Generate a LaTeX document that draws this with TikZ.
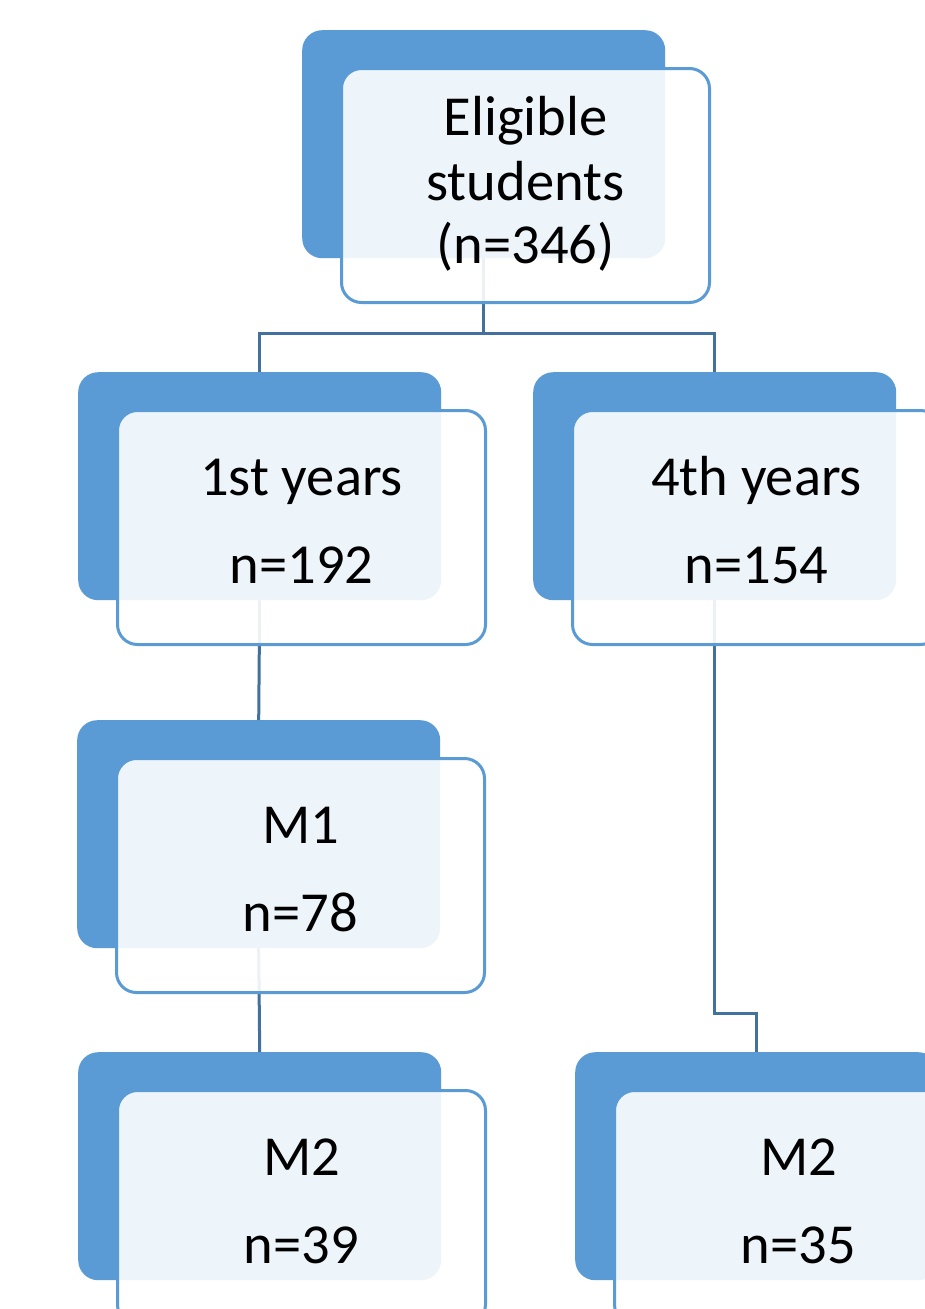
\documentclass[tikz,border=0pt]{standalone}
\usepackage{fontspec}
\setmainfont{Carlito}
\usetikzlibrary{calc}
\definecolor{accent}{HTML}{5B9BD5}
\definecolor{linkc}{HTML}{41719C}
\tikzset{
  backbox/.style={rectangle, rounded corners=20pt, fill=accent, draw=none,
    minimum width=363pt, minimum height=228pt, inner sep=0pt, anchor=north west},
  frontbox/.style={rectangle, rounded corners=20pt, fill=white, fill opacity=0.9,
    draw=accent, line width=3pt, minimum width=368pt, minimum height=234pt,
    inner sep=0pt, anchor=north west},
  lbl/.style={anchor=base, inner sep=0pt, text=black,
    font=\fontsize{56.5}{64}\selectfont},
  link/.style={draw=linkc, line width=3pt}
}
\begin{document}
\begin{tikzpicture}[x=1pt, y=-1pt]
\useasboundingbox (0,0) rectangle (925,1309);
\fill[white] (0,0) rectangle (925,1309);
% back boxes
\node[backbox] (b0)  at (302,30)   {};
\node[backbox] (b1l) at (78,372)   {};
\node[backbox] (b1r) at (533,372)  {};
\node[backbox] (b2)  at (77,720)   {};
\node[backbox] (b3l) at (78,1052)  {};
\node[backbox] (b3r) at (575,1052) {};
% connectors
\coordinate (m0) at (0,333);
\coordinate (m1) at (0,1013);
\draw[link] (b0.south) -- (b0.south |- m0) -| (b1l.north);
\draw[link] (b0.south |- m0) -| (b1r.north);
\draw[link] (b1l.south) -- (b2.north);
\draw[link] (b2.south) -- (b3l.north);
\draw[link] (b1r.south) -- (b1r.south |- m1) -| (b3r.north);
% front boxes
\node[frontbox] (f0)  at (340,67)   {};
\node[frontbox] (f1l) at (116,409)  {};
\node[frontbox] (f1r) at (571,409)  {};
\node[frontbox] (f2)  at (115,757)  {};
\node[frontbox] (f3l) at (116,1089) {};
\node[frontbox] (f3r) at (613,1089) {};
% labels
\node[lbl] (t0a) at ($(f0.north)+(0,68)$)  {Eligible};
\node[lbl] (t0b) at ($(f0.north)+(0,133)$) {students};
\node[lbl] (t0c) at ($(f0.north)+(0,196)$) {(n=346)};
\node[lbl] (t1a) at ($(f1l.north)+(0,86)$)  {1st years};
\node[lbl] (t1b) at ($(f1l.north)+(0,174)$) {n=192};
\node[lbl] (t2a) at ($(f1r.north)+(0,86)$)  {4th years};
\node[lbl] (t2b) at ($(f1r.north)+(0,174)$) {n=154};
\node[lbl] (t3a) at ($(f2.north)+(0,86)$)  {M1};
\node[lbl] (t3b) at ($(f2.north)+(0,174)$) {n=78};
\node[lbl] (t4a) at ($(f3l.north)+(0,86)$)  {M2};
\node[lbl] (t4b) at ($(f3l.north)+(0,174)$) {n=39};
\node[lbl] (t5a) at ($(f3r.north)+(0,86)$)  {M2};
\node[lbl] (t5b) at ($(f3r.north)+(0,174)$) {n=35};
\end{tikzpicture}
\end{document}
